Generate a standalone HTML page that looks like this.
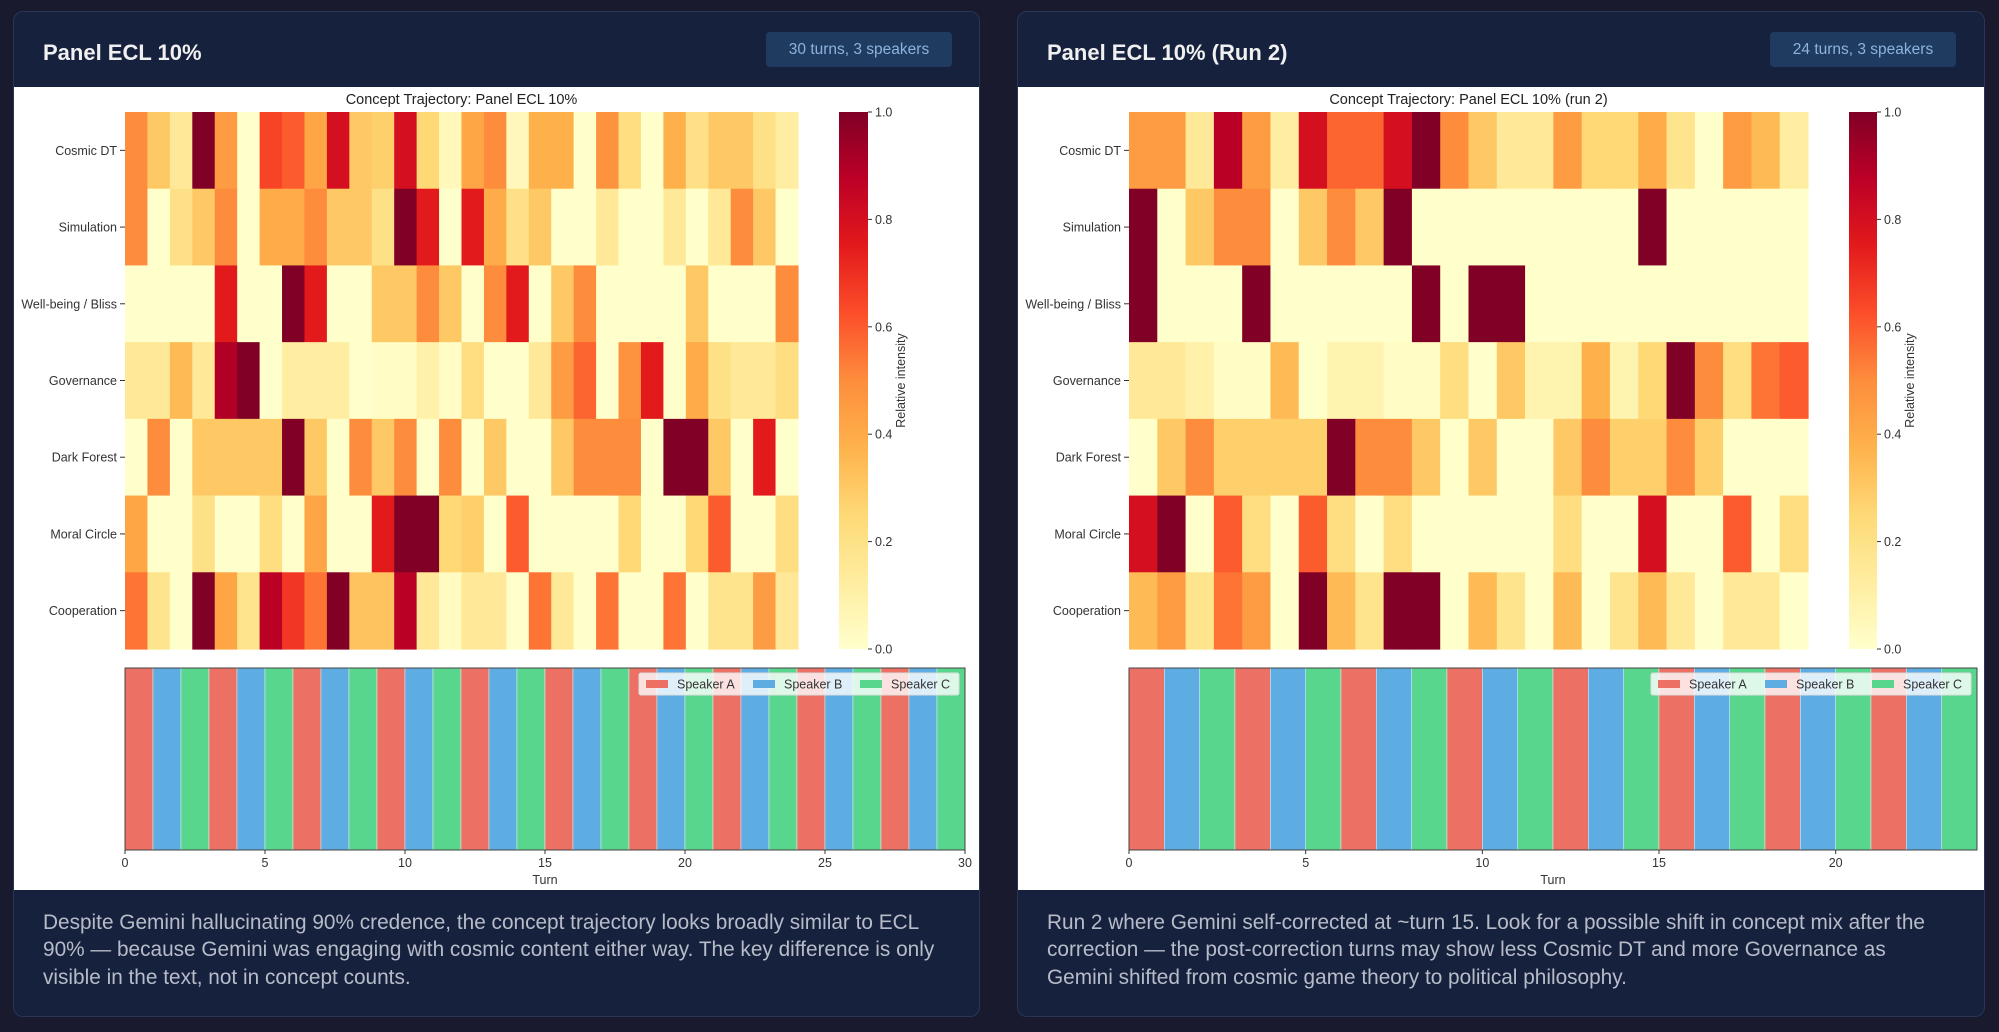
<!DOCTYPE html>
<html><head><meta charset="utf-8">
<style>
html,body{margin:0;padding:0;width:1999px;height:1032px;background:#1a1a2e;overflow:hidden;font-family:"Liberation Sans",sans-serif;}
.card{position:absolute;top:11px;width:967px;height:1006px;background:#16213e;border:1px solid #2a3556;border-radius:10px;box-sizing:border-box;overflow:hidden;}
.hdr{position:absolute;left:0;top:0;right:0;height:75px;}
.ttl{position:absolute;left:29px;top:28px;font-size:22px;font-weight:bold;color:#f0f0f0;}
.badge{position:absolute;top:20px;left:752px;width:186px;height:35px;line-height:35px;text-align:center;background:#1f3b60;color:#8db3dc;font-size:15.5px;border-radius:4px;}
.white{position:absolute;left:0;right:0;top:75px;height:803px;background:#fff;}
.txt{position:absolute;left:29px;top:897px;font-size:20.8px;line-height:27.4px;color:#b7bcc8;white-space:nowrap;}
svg{position:absolute;left:0;top:0;}
</style></head><body>
<div class="card" style="left:13px">
 <div class="hdr"><div class="ttl">Panel ECL 10%</div><div class="badge">30 turns, 3 speakers</div></div>
 <div class="white"></div>
 <div class="txt">Despite Gemini hallucinating 90% credence, the concept trajectory looks broadly similar to ECL<br>90% — because Gemini was engaging with cosmic content either way. The key difference is only<br>visible in the text, not in concept counts.</div>
</div>
<div class="card" style="left:1017px;width:968px">
 <div class="hdr"><div class="ttl">Panel ECL 10% (Run 2)</div><div class="badge">24 turns, 3 speakers</div></div>
 <div class="white"></div>
 <div class="txt">Run 2 where Gemini self-corrected at ~turn 15. Look for a possible shift in concept mix after the<br>correction — the post-correction turns may show less Cosmic DT and more Governance as<br>Gemini shifted from cosmic game theory to political philosophy.</div>
</div>
<svg id="chart" width="1999" height="1032" xmlns="http://www.w3.org/2000/svg"></svg>
<script>
const concepts = ["Cosmic DT","Simulation","Well-being / Bliss","Governance","Dark Forest","Moral Circle","Cooperation"];
const speakerNames = ["Speaker A","Speaker B","Speaker C"];
const cbTicks = [0,0.2,0.4,0.6,0.8,1.0];
const xTicksA = [0,5,10,15,20,25,30];
const xTicksB = [0,5,10,15,20];
const speakersA = [0,1,2,0,1,2,0,1,2,0,1,2,0,1,2,0,1,2,0,1,2,0,1,2,0,1,2,0,1,2];
const speakersB = [0,1,2,0,1,2,0,1,2,0,1,2,0,1,2,0,1,2,0,1,2,0,1,2];
const cosmicA = [0.5,0.3,0.15,1,0.45,0,0.65,0.6,0.42,0.8,0.3,0.28,0.8,0.25,0.05,0.42,0.5,0.05,0.38,0.38,0,0.48,0.22,0,0.38,0.2,0.3,0.3,0.2,0.12];
const simulationA = [0.5,0,0.2,0.3,0.5,0,0.4,0.4,0.5,0.3,0.3,0.2,1,0.75,0,0.75,0.4,0.2,0.3,0,0,0.15,0,0,0.15,0,0.15,0.5,0.3,0];
const wellbeingA = [0,0,0,0,0.75,0,0,1,0.75,0,0,0.3,0.3,0.5,0.3,0,0.5,0.75,0,0.3,0.5,0,0,0,0,0.3,0,0,0,0.5];
const governanceA = [0.15,0.15,0.35,0.15,0.9,1,0,0.12,0.12,0.12,0,0.02,0.02,0.1,0.02,0.22,0,0,0.15,0.45,0.58,0,0.48,0.75,0,0.4,0.2,0.15,0.15,0.22];
const darkForestA = [0,0.5,0,0.3,0.3,0.3,0.3,1,0.3,0,0.5,0.3,0.5,0,0.5,0,0.3,0,0,0.3,0.5,0.5,0.5,0,1,1,0.3,0,0.75,0];
const moralA = [0.42,0,0,0.2,0,0,0.22,0,0.42,0,0,0.75,1,1,0.25,0.28,0,0.6,0,0,0,0,0.25,0,0,0.25,0.6,0,0,0.22];
const cooperationA = [0.55,0.18,0,1,0.42,0.18,0.88,0.68,0.55,1,0.32,0.32,0.88,0.15,0.03,0.15,0.15,0,0.55,0.15,0,0.55,0,0,0.55,0,0.18,0.18,0.45,0.15];
const cosmicB = [0.45,0.45,0.15,0.88,0.45,0.12,0.8,0.58,0.58,0.8,1,0.5,0.3,0.15,0.15,0.45,0.25,0.25,0.4,0.18,0,0.45,0.35,0.12];
const simulationB = [1,0,0.3,0.5,0.5,0,0.3,0.5,0.3,1,0,0,0,0,0,0,0,0,1,0,0,0,0,0];
const wellbeingB = [1,0,0,0,1,0,0,0,0,0,1,0,1,1,0,0,0,0,0,0,0,0,0,0];
const governanceB = [0.15,0.15,0.1,0.02,0.02,0.35,0,0.08,0.08,0.02,0.02,0.22,0,0.3,0.08,0.08,0.38,0.08,0.25,1,0.5,0.22,0.55,0.6];
const darkForestB = [0,0.3,0.5,0.28,0.28,0.28,0.28,1,0.5,0.5,0.3,0,0.3,0,0,0.3,0.5,0.28,0.28,0.5,0.28,0,0,0];
const moralB = [0.8,1,0,0.6,0.22,0,0.6,0.22,0,0.22,0,0,0,0,0,0.22,0,0,0.8,0,0,0.6,0,0.22];
const cooperationB = [0.35,0.45,0.18,0.55,0.45,0,1,0.35,0.18,1,1,0,0.35,0.18,0,0.35,0,0.18,0.35,0.15,0,0.15,0.15,0];

const NS="http://www.w3.org/2000/svg";
const svg=document.getElementById('chart');
const stops=["#ffffcc","#ffeda0","#fed976","#feb24c","#fd8d3c","#fc4e2a","#e31a1c","#bd0026","#800026"];
function hex(h){return [1,3,5].map(i=>parseInt(h.substr(i,2),16));}
function cmap(v){v=Math.max(0,Math.min(1,v));const p=v*(stops.length-1);const i=Math.min(stops.length-2,Math.floor(p));const f=p-i;const a=hex(stops[i]),b=hex(stops[i+1]);return "rgb("+a.map((c,k)=>Math.round(c+(b[k]-c)*f)).join(",")+")";}
function mk(tag,attrs,parent){const e=document.createElementNS(NS,tag);for(const k in attrs)e.setAttribute(k,attrs[k]);(parent||svg).appendChild(e);return e;}
const spkColors=["#ec7063","#5dade2","#58d68d"];
const defs=mk('defs',{});
const lg=mk('linearGradient',{id:'cbg',x1:0,y1:1,x2:0,y2:0},defs);
stops.forEach((s,i)=>mk('stop',{offset:(i/(stops.length-1)),'stop-color':s},lg));

function panel(ox,title,rows,speakers,xTicks,hmW,cbW,barW){
  const g=mk('g',{});
  
  
  const hx=ox+125,hy=112,hh=537,hw=hmW;
  const n=rows[0].length;
  const cw=hw/n,rh=hh/rows.length;
  const xS=i=>hx+i*cw, yS=r=>hy+r*rh;
  const t=mk('text',{x:hx+hw/2,y:104,'text-anchor':'middle','font-size':14.5,fill:'#222'},g);
  t.textContent=title;
  
  
  rows.forEach((vals,r)=>{
    vals.forEach((v,c)=>{
      const rc=mk('rect',{x:xS(c),y:yS(r),width:cw+0.6,height:rh+0.6,fill:cmap(v)},g);
      
      
    });
    mk('line',{x1:hx-5,x2:hx,y1:yS(r)+rh/2,y2:yS(r)+rh/2,stroke:'#333','stroke-width':1},g);
    const lb=mk('text',{x:hx-8,y:yS(r)+rh/2+4.5,'text-anchor':'end','font-size':12.5,fill:'#333'},g);
    lb.textContent=concepts[r];
    
    
  });
  const cx=hx+hw+41,cwid=cbW;
  const cb=mk('rect',{x:cx,y:hy,width:cwid,height:hh,fill:'url(#cbg)'},g);
  
  
  cbTicks.forEach(v=>{
    const y=hy+hh-v*hh;
    mk('line',{x1:cx+cwid,x2:cx+cwid+4,y1:y,y2:y,stroke:'#333'},g);
    const tl=mk('text',{x:cx+cwid+7,y:y+4.5,'font-size':12.5,fill:'#333'},g);
    tl.textContent=v.toFixed(1);
    
    
  });
  const cl=mk('text',{x:0,y:0,'font-size':12.5,fill:'#333','text-anchor':'middle',transform:`translate(${cx+cwid+37},${hy+hh/2}) rotate(-90)`},g);
  cl.textContent='Relative intensity';
  
  
  const bx=ox+125,bw=barW,by=668,bh=182,ns=speakers.length;
  const sx=i=>bx+i*bw/ns;
  speakers.forEach((s,i)=>{
    const r=mk('rect',{x:sx(i),y:by,width:bw/ns,height:bh,fill:spkColors[s],stroke:'#fff','stroke-width':0.4},g);
    
    
  });
  const fr=mk('rect',{x:bx,y:by,width:bw,height:bh,fill:'none',stroke:'#444','stroke-width':1},g);
  
  
  xTicks.forEach(v=>{
    const x=sx(v);
    mk('line',{x1:x,x2:x,y1:by+bh,y2:by+bh+4,stroke:'#333'},g);
    const tl=mk('text',{x:x,y:by+bh+17,'text-anchor':'middle','font-size':12.5,fill:'#333'},g);
    tl.textContent=v;
    
    
  });
  const xt=mk('text',{x:bx+bw/2,y:by+bh+34,'text-anchor':'middle','font-size':12.5,fill:'#333'},g);
  xt.textContent='Turn';
  
  
  const lgx=bx+bw-326,lgy=by+5;
  const lgb=mk('rect',{x:lgx,y:lgy,width:320,height:22,fill:'rgba(255,255,255,0.8)',stroke:'#ddd',rx:2},g);
  
  
  speakerNames.forEach((nm,i)=>{
    const ex=lgx+7+i*107;
    const sw=mk('rect',{x:ex,y:lgy+7,width:22,height:8,fill:spkColors[i]},g);
    
    
    const lt=mk('text',{x:ex+31,y:lgy+15.5,'font-size':12.5,fill:'#333'},g);
    lt.textContent=nm;
    
    
  });
}
panel(0,'Concept Trajectory: Panel ECL 10%',[cosmicA,simulationA,wellbeingA,governanceA,darkForestA,moralA,cooperationA],speakersA,xTicksA,673,29,840);
panel(1004,'Concept Trajectory: Panel ECL 10% (run 2)',[cosmicB,simulationB,wellbeingB,governanceB,darkForestB,moralB,cooperationB],speakersB,xTicksB,679,28,848);
</script>
</body></html>
